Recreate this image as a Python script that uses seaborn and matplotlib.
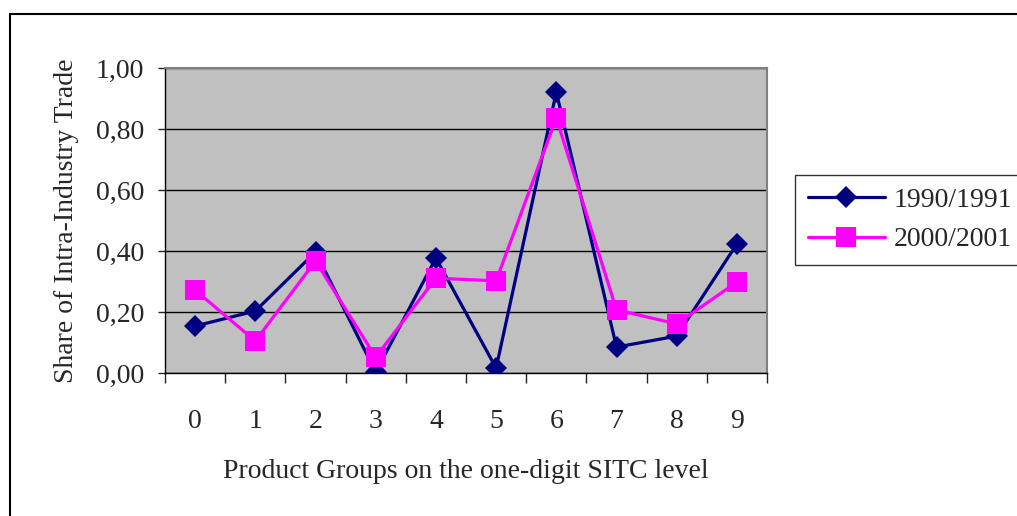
import numpy as np
import pandas as pd
import matplotlib
matplotlib.use("Agg")
import matplotlib.pyplot as plt
import seaborn as sns
from matplotlib.ticker import FuncFormatter, FixedLocator
from matplotlib.lines import Line2D

# Daten
groups = [0, 1, 2, 3, 4, 5, 6, 7, 8, 9]
share_1990 = [0.154, 0.203, 0.397, 0.003, 0.377, 0.016, 0.921, 0.085, 0.121, 0.423]
share_2000 = [0.272, 0.105, 0.367, 0.052, 0.311, 0.302, 0.836, 0.207, 0.161, 0.298]
periods = ["1990/1991", "2000/2001"]
y_ticks = [0.0, 0.2, 0.4, 0.6, 0.8, 1.0]

df = pd.DataFrame({
    "group": groups * 2,
    "share": share_1990 + share_2000,
    "period": [periods[0]] * len(groups) + [periods[1]] * len(groups),
})

sns.set_style("white")
plt.rcParams["font.family"] = ["Liberation Serif", "DejaVu Serif"]
FS = 20

fig = plt.figure(figsize=(10.17, 5.16), dpi=100)
ax = fig.add_axes([165 / 1017, 1 - 373 / 516, 602 / 1017, 305 / 516])
ax.set_facecolor("#C0C0C0")

styles = {
    "1990/1991": dict(color="#000080", marker="D", markersize=11.5),
    "2000/2001": dict(color="#FF00FF", marker="s", markersize=15),
}
for p in periods:
    sub = df[df["period"] == p]
    sns.lineplot(data=sub, x="group", y="share", ax=ax, linewidth=2.3,
                 markeredgewidth=0, label=p, zorder=3, **styles[p])

ax.set_xlim(-0.5, 9.5)
ax.set_ylim(0, 1.0)
ax.set_yticks(y_ticks)
ax.yaxis.set_major_formatter(FuncFormatter(lambda v, _: f"{v:.2f}".replace(".", ",")))
ax.set_xticks(groups)
ax.xaxis.set_minor_locator(FixedLocator(np.arange(-0.5, 10, 1)))
ax.tick_params(axis="x", which="major", length=0, pad=26, labelsize=FS)
ax.tick_params(axis="x", which="minor", length=7, width=1, direction="out", bottom=True)
ax.tick_params(axis="y", length=5, width=1, direction="out", left=True, labelsize=FS, pad=10)
ax.grid(axis="y", color="black", linewidth=1)
ax.set_axisbelow(True)

for s in ["top", "right"]:
    ax.spines[s].set_color("#808080")
    ax.spines[s].set_linewidth(1.5)
for s in ["left", "bottom"]:
    ax.spines[s].set_color("black")
    ax.spines[s].set_linewidth(1)

ax.set_xlabel("Product Groups on the one-digit SITC level", fontsize=FS, labelpad=18)
ax.set_ylabel("Share of Intra-Industry Trade", fontsize=FS, labelpad=12)

ax.get_legend().remove()
handles = [Line2D([], [], linewidth=2.3, markeredgewidth=0, **styles[p]) for p in periods]
leg = fig.legend(handles, periods, loc="center left", bbox_to_anchor=(795 / 1017, 1 - 220 / 516),
                 bbox_transform=fig.transFigure, fontsize=FS, frameon=True, fancybox=False,
                 edgecolor="black", handlelength=2.8, borderpad=0.45, labelspacing=0.5,
                 handletextpad=0.3, borderaxespad=0)
leg.get_frame().set_linewidth(1)

# Rahmen um das Diagramm
fig.add_artist(Line2D([10 / 1017, 1], [1 - 14 / 516, 1 - 14 / 516], color="black",
                      linewidth=1.5, transform=fig.transFigure))
fig.add_artist(Line2D([10 / 1017, 10 / 1017], [0, 1 - 14 / 516], color="black",
                      linewidth=1.5, transform=fig.transFigure))

fig.savefig("out.png", dpi=100)
